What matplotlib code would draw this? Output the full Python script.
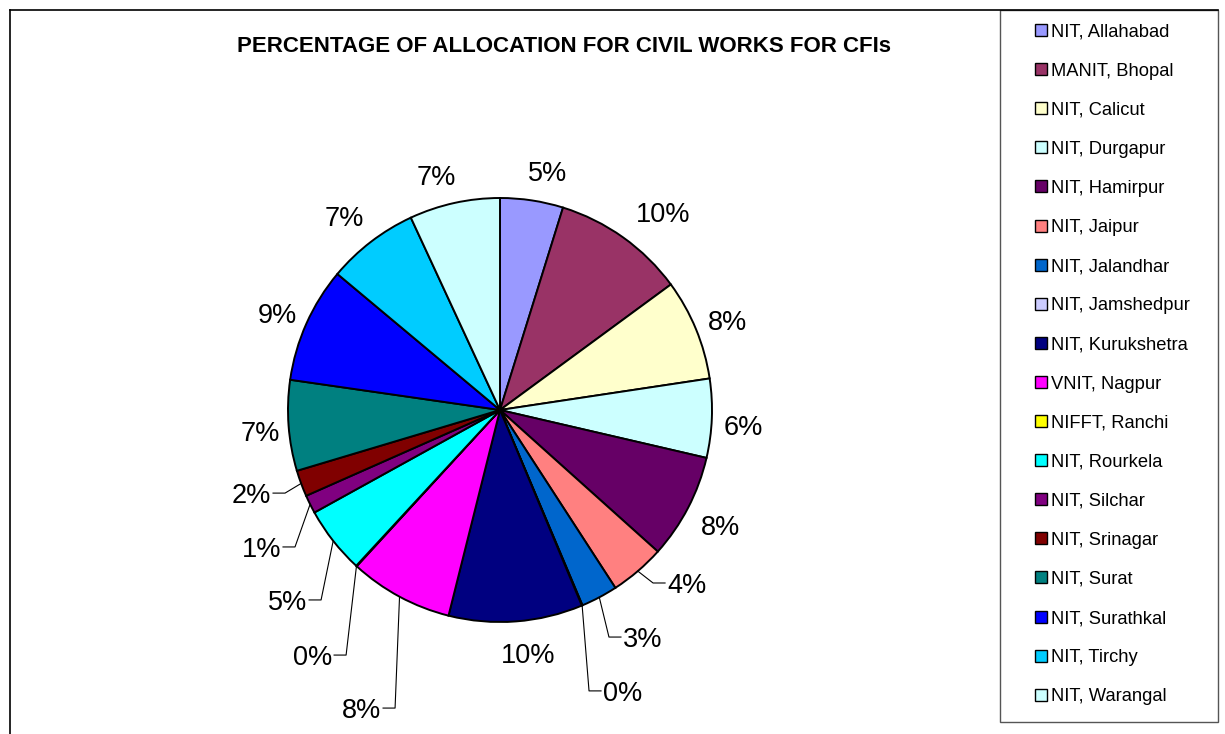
import matplotlib
matplotlib.use("Agg")
import matplotlib.pyplot as plt
from matplotlib.patches import Rectangle
from matplotlib.lines import Line2D
import numpy as np

plt.rcParams['font.family'] = ['Liberation Sans', 'DejaVu Sans']

# data (percent of allocation)
institutes = ['NIT, Allahabad', 'MANIT, Bhopal', 'NIT, Calicut', 'NIT, Durgapur',
              'NIT, Hamirpur', 'NIT, Jaipur', 'NIT, Jalandhar', 'NIT, Jamshedpur',
              'NIT, Kurukshetra', 'VNIT, Nagpur', 'NIFFT, Ranchi', 'NIT, Rourkela',
              'NIT, Silchar', 'NIT, Srinagar', 'NIT, Surat', 'NIT, Surathkal',
              'NIT, Tirchy', 'NIT, Warangal']
share = [4.8, 10.1, 7.7, 6.0, 8.0, 4.2, 2.8, 0.05, 10.2, 7.9, 0.05, 5.1,
         1.4, 2.0, 6.9, 8.8, 7.0, 6.9]
colors = ['#9999FF', '#993366', '#FFFFCC', '#CCFFFF', '#660066', '#FF8080',
          '#0066CC', '#CCCCFF', '#000080', '#FF00FF', '#FFFF00', '#00FFFF',
          '#800080', '#800000', '#008080', '#0000FF', '#00CCFF', '#CCFFFF']
title = 'PERCENTAGE OF ALLOCATION FOR CIVIL WORKS FOR CFIs'

# label layout in pie-radius units: (x, y, side) ; side 0 = centred, 1 = leader to the left, -1 = leader to the right
label_layout = [(0.226, 1.127, 0), (0.769, 0.934, 0), (1.075, 0.425, 0), (1.146, -0.071, 0),
                (1.038, -0.542, 0), (0.788, -0.816, 1), (0.580, -1.071, 1), (0.486, -1.325, 1),
                (0.132, -1.146, 0), (-0.561, -1.406, -1), (-0.792, -1.156, -1), (-0.910, -0.896, -1),
                (-1.033, -0.646, -1), (-1.080, -0.392, -1), (-1.132, -0.099, 0), (-1.052, 0.458, 0),
                (-0.736, 0.915, 0), (-0.302, 1.108, 0)]

W, H = 1225, 734
R = 212.0          # pie radius in px
CX, CY = 500, 410  # pie centre in px (from top-left)

fig = plt.figure(figsize=(W / 100, H / 100), dpi=100)
ax = fig.add_axes([0, 0, 1000 / W, 1])

wedges, _ = ax.pie(share, colors=colors, startangle=90, counterclock=False,
                   radius=1, center=(0, 0),
                   wedgeprops=dict(edgecolor='black', linewidth=1.4))
ax.set_xlim(-CX / R, (1000 - CX) / R)
ax.set_ylim((CY - H) / R, CY / R)
ax.set_aspect('auto')
ax.axis('off')

lab_size = 19.5
cap_off = 0.358 * lab_size * 100 / 72 / R
total = sum(share)
for w, v, (lx, ly, side) in zip(wedges, share, label_layout):
    txt = '%d%%' % round(v / total * 100)
    if side == 0:
        ax.text(lx, ly - cap_off, txt, ha='center', va='baseline', fontsize=lab_size)
        continue
    mid = np.deg2rad((w.theta1 + w.theta2) / 2)
    ex, ey = np.cos(mid), np.sin(mid)
    d = -side
    xs = [ex, lx + d * 14 / R, lx + d * 2 / R]
    ys = [ey, ly, ly]
    ax.add_line(Line2D(xs, ys, color='black', lw=0.8))
    ax.text(lx, ly - cap_off, txt, ha='left' if side == 1 else 'right',
            va='baseline', fontsize=lab_size)


def fx(px):
    return px / W


def fy(py):
    return 1 - py / H


fig.text(fx(564), fy(52), title, ha='center', va='baseline',
         fontsize=16, fontweight='bold')

# chart area border (top and left edges)
fig.add_artist(Line2D([fx(10), fx(1218)], [fy(10), fy(10)], color='black', lw=1.2))
fig.add_artist(Line2D([fx(10), fx(10)], [fy(10), fy(734)], color='black', lw=1.2))

# legend box
fig.add_artist(Rectangle((fx(1000), fy(722)), fx(218), 712 / H, transform=fig.transFigure,
                         facecolor='white', edgecolor='#555555', lw=1.0))
leg_size = 13.2
leg_cap = 0.36 * leg_size * 100 / 72
for i, (name, c) in enumerate(zip(institutes, colors)):
    yc = 30 + i * 39.1
    fig.add_artist(Rectangle((fx(1035), fy(yc + 6)), fx(12), 12 / H, transform=fig.transFigure,
                             facecolor=c, edgecolor='black', lw=1.0))
    fig.text(fx(1051), fy(yc + leg_cap), name, ha='left', va='baseline', fontsize=leg_size)

fig.savefig('out.png', dpi=100)
